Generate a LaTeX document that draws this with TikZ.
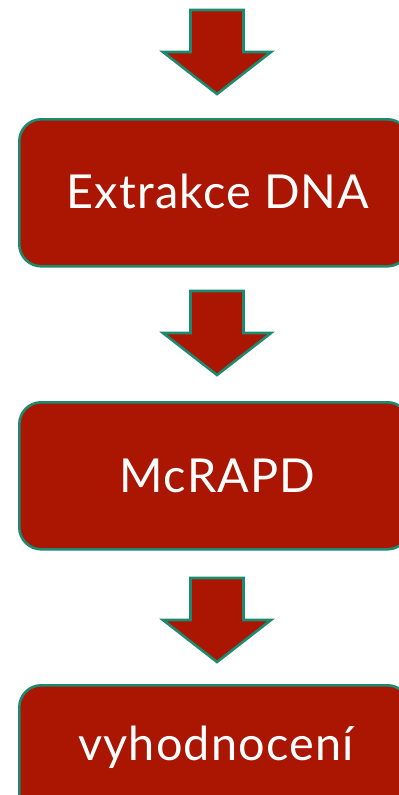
\documentclass[tikz,border=0pt]{standalone}
\usepackage{fontspec}
\setmainfont{Lato}
\newfontfamily\stagefont[LetterSpace=2.5]{Lato}
\definecolor{boxred}{RGB}{170,22,2}
\definecolor{edgeteal}{RGB}{28,138,110}
\begin{document}
\begin{tikzpicture}[x=1bp,y=-1bp,
  stagebox/.style={draw=edgeteal,line width=2.6bp,fill=boxred,rounded corners=22bp,
    minimum width=390bp,minimum height=147bp,inner sep=0pt,anchor=north west},
  stagetext/.style={text=white,font=\stagefont\fontsize{47}{50}\selectfont,anchor=base,inner sep=0pt},
  blockarrow/.style={draw=edgeteal,line width=2.6bp,fill=boxred,line join=miter}]
\useasboundingbox (0,0) rectangle (398,795);
\node[stagebox] (box1) at (18,118) {};
\node[stagebox] (box2) at (18,401) {};
\node[stagebox] (box3) at (18,684) {};
\node[stagetext] (t1) at (218,208) {Extrakce DNA};
\node[stagetext] (t2) at (217.5,492) {McRAPD};
\node[stagetext] (t3) at (216,760) {vyhodnocení};
\foreach \y/\n in {10/a1,291/a2,578/a3}{
  \coordinate (\n) at (217,\y);
  \draw[blockarrow] ([xshift=-26.5bp]\n) -- ([xshift=26.5bp]\n) -- ([xshift=26.5bp,yshift=-42bp]\n)
    -- ([xshift=54bp,yshift=-42bp]\n) -- ([yshift=-84bp]\n) -- ([xshift=-54bp,yshift=-42bp]\n)
    -- ([xshift=-26.5bp,yshift=-42bp]\n) -- cycle;
}
\end{tikzpicture}
\end{document}
